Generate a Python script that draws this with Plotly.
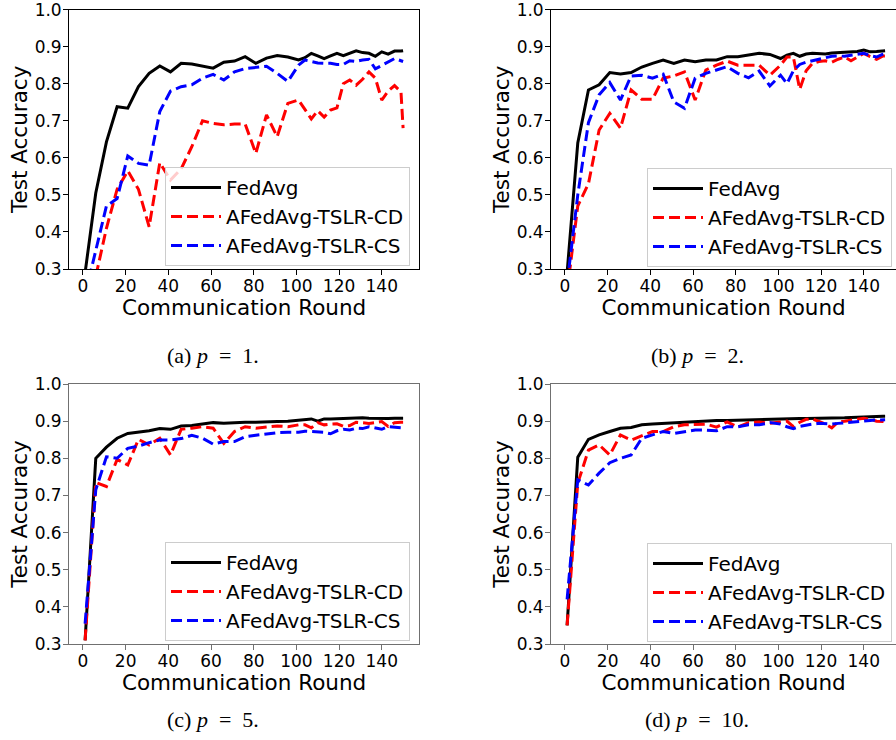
import plotly.graph_objects as go

# ---------------- data ----------------
ROUNDS = [1, 6, 11, 16, 21, 26, 31, 36, 41, 46, 51, 56, 61, 66, 71, 76, 81, 86, 91, 96, 101,
          104, 107, 110, 113, 116, 119, 122, 125, 128, 131, 134, 137, 140, 143, 146, 149, 150]

# p = 1
A_FEDAVG = [0.29, 0.505, 0.643, 0.738, 0.734, 0.792, 0.828, 0.848, 0.832, 0.855, 0.853, 0.848, 0.842,
            0.858, 0.861, 0.873, 0.855, 0.869, 0.876, 0.872, 0.864,
            0.870, 0.882, 0.875, 0.868, 0.875, 0.882, 0.876, 0.882, 0.889, 0.884, 0.882, 0.874,
            0.886, 0.880, 0.888, 0.888, 0.889]
A_CD = [0.20, 0.28, 0.41, 0.515, 0.565, 0.515, 0.414, 0.587, 0.540, 0.570, 0.630, 0.700, 0.693,
        0.689, 0.691, 0.691, 0.612, 0.716, 0.657, 0.747, 0.756,
        0.730, 0.705, 0.727, 0.710, 0.729, 0.735, 0.800, 0.810, 0.796, 0.812, 0.832, 0.815,
        0.756, 0.780, 0.795, 0.778, 0.680]
A_CS = [0.23, 0.35, 0.47, 0.49, 0.605, 0.585, 0.580, 0.725, 0.780, 0.792, 0.797, 0.815, 0.825,
        0.810, 0.832, 0.841, 0.844, 0.847, 0.828, 0.806, 0.850,
        0.864, 0.860, 0.856, 0.855, 0.855, 0.852, 0.852, 0.862, 0.860, 0.864, 0.866, 0.840,
        0.850, 0.858, 0.868, 0.862, 0.860]

# p = 2
B_FEDAVG = [0.29, 0.640, 0.783, 0.797, 0.830, 0.826, 0.830, 0.845, 0.855, 0.864, 0.855, 0.864, 0.859,
            0.864, 0.864, 0.873, 0.873, 0.877, 0.882, 0.879, 0.868,
            0.877, 0.882, 0.874, 0.880, 0.882, 0.882, 0.880, 0.883, 0.884, 0.886, 0.885, 0.887,
            0.891, 0.886, 0.887, 0.888, 0.889]
B_CD = [0.24, 0.47, 0.53, 0.675, 0.720, 0.680, 0.783, 0.758, 0.758, 0.815, 0.821, 0.832, 0.756,
        0.837, 0.850, 0.861, 0.850, 0.850, 0.850, 0.823, 0.850,
        0.872, 0.872, 0.785, 0.835, 0.855, 0.860, 0.862, 0.858, 0.866, 0.872, 0.862, 0.871,
        0.882, 0.873, 0.866, 0.875, 0.875]
B_CS = [0.26, 0.50, 0.695, 0.770, 0.803, 0.756, 0.821, 0.823, 0.815, 0.826, 0.751, 0.734, 0.815,
        0.828, 0.837, 0.846, 0.828, 0.816, 0.834, 0.794, 0.823,
        0.800, 0.835, 0.852, 0.858, 0.862, 0.868, 0.872, 0.874, 0.875, 0.874, 0.877, 0.879,
        0.882, 0.876, 0.872, 0.880, 0.882]

# p = 5
C_FEDAVG = [0.31, 0.800, 0.830, 0.854, 0.867, 0.870, 0.874, 0.880, 0.878, 0.887, 0.888, 0.892, 0.896,
            0.894, 0.896, 0.897, 0.897, 0.897, 0.899, 0.900, 0.902,
            0.905, 0.906, 0.900, 0.906, 0.906, 0.907, 0.908, 0.907, 0.909, 0.909, 0.908, 0.907,
            0.908, 0.907, 0.908, 0.908, 0.908]
C_CD = [0.31, 0.735, 0.724, 0.797, 0.782, 0.851, 0.836, 0.854, 0.809, 0.878, 0.881, 0.885, 0.881,
        0.840, 0.872, 0.885, 0.881, 0.885, 0.887, 0.885, 0.890,
        0.890, 0.882, 0.896, 0.890, 0.892, 0.893, 0.886, 0.888, 0.897, 0.896, 0.894, 0.896,
        0.899, 0.886, 0.896, 0.897, 0.897]
C_CS = [0.355, 0.715, 0.804, 0.800, 0.827, 0.833, 0.842, 0.849, 0.849, 0.853, 0.862, 0.854, 0.838,
        0.845, 0.845, 0.858, 0.862, 0.866, 0.869, 0.870, 0.870,
        0.873, 0.872, 0.872, 0.870, 0.866, 0.874, 0.878, 0.876, 0.881, 0.880, 0.885, 0.882,
        0.878, 0.885, 0.884, 0.883, 0.882]

# p = 10
D_FEDAVG = [0.35, 0.803, 0.851, 0.863, 0.872, 0.881, 0.883, 0.890, 0.892, 0.894, 0.896, 0.897, 0.898,
            0.900, 0.902, 0.902, 0.903, 0.904, 0.905, 0.905, 0.905,
            0.906, 0.907, 0.907, 0.907, 0.907, 0.907, 0.908, 0.908, 0.909, 0.909, 0.910, 0.911,
            0.911, 0.911, 0.912, 0.913, 0.913]
D_CD = [0.35, 0.733, 0.822, 0.836, 0.809, 0.863, 0.849, 0.860, 0.872, 0.872, 0.885, 0.890, 0.892,
        0.892, 0.884, 0.898, 0.884, 0.896, 0.898, 0.894, 0.898,
        0.900, 0.885, 0.897, 0.905, 0.906, 0.899, 0.892, 0.882, 0.898, 0.900, 0.903, 0.905,
        0.908, 0.905, 0.900, 0.899, 0.898]
D_CS = [0.42, 0.742, 0.728, 0.760, 0.788, 0.800, 0.809, 0.854, 0.863, 0.872, 0.867, 0.872, 0.876,
        0.876, 0.874, 0.885, 0.885, 0.890, 0.890, 0.896, 0.892,
        0.885, 0.880, 0.886, 0.890, 0.892, 0.894, 0.893, 0.892, 0.894, 0.896, 0.897, 0.899,
        0.900, 0.902, 0.903, 0.904, 0.904]

SERIES_NAMES = ["FedAvg", "AFedAvg-TSLR-CD", "AFedAvg-TSLR-CS"]
CAPTIONS = ["(a) <i>p</i>&nbsp; =&nbsp; 1.", "(b) <i>p</i>&nbsp; =&nbsp; 2.",
            "(c) <i>p</i>&nbsp; =&nbsp; 5.", "(d) <i>p</i>&nbsp; =&nbsp; 10."]
Y_TICKS = [0.3, 0.4, 0.5, 0.6, 0.7, 0.8, 0.9, 1.0]
X_TICKS = [0, 20, 40, 60, 80, 100, 120, 140]

PANELS = [
    (A_FEDAVG, A_CD, A_CS),
    (B_FEDAVG, B_CD, B_CS),
    (C_FEDAVG, C_CD, C_CS),
    (D_FEDAVG, D_CD, D_CS),
]

# ---------------- layout geometry ----------------
W, H = 896, 740
FONT = "DejaVu Sans"
left_dom = [69.2 / W, 419 / W]
right_dom = [551.2 / W, 1.0]
top_dom = [1 - 269 / H, 1 - 9.6 / H]
bot_dom = [1 - 644 / H, 1 - 384 / H]
x_ranges = [[-6.45, 157.45], [-6.45, 155.1], [-6.45, 157.45], [-6.45, 155.1]]
x_doms = [left_dom, right_dom, left_dom, right_dom]
y_doms = [top_dom, top_dom, bot_dom, bot_dom]
spine_colors = ["#000000", "#000000", "#707070", "#707070"]
legend_pos = [(165 / W, 1 - 167 / H), (647 / W, 1 - 168 / H),
              (165 / W, 1 - 542 / H), (647 / W, 1 - 543 / H)]
caption_pos = [(213 / W, 1 - 355 / H), (697 / W, 1 - 355 / H),
               (213 / W, 1 - 719 / H), (697 / W, 1 - 719 / H)]

colors = ["#000000", "#ff0000", "#0000ff"]
dashes = ["solid", "11px,5px", "11px,5px"]

fig = go.Figure()
layout = dict(width=W, height=H, margin=dict(l=0, r=0, t=0, b=0, autoexpand=False),
              paper_bgcolor="white", plot_bgcolor="white", showlegend=True)

annotations = []
for i, series in enumerate(PANELS):
    k = "" if i == 0 else str(i + 1)
    leg = "legend" if i == 0 else f"legend{i + 1}"
    for j, vals in enumerate(series):
        fig.add_trace(go.Scatter(
            x=ROUNDS, y=vals, mode="lines", name=SERIES_NAMES[j],
            line=dict(color=colors[j], width=3, dash=dashes[j]),
            xaxis="x" + k, yaxis="y" + k, legend=leg, hoverinfo="skip"))
    layout["xaxis" + k] = dict(
        domain=x_doms[i], range=x_ranges[i], anchor="y" + k, automargin=False,
        tickvals=X_TICKS, ticks="outside", ticklen=5, tickwidth=1.2, ticklabelstandoff=-4,
        ticklabeloverflow="allow",
        tickcolor=spine_colors[i], showline=True, linecolor=spine_colors[i], linewidth=1.2,
        mirror=True, showgrid=False, zeroline=False,
        tickfont=dict(family=FONT, size=17, color="black"),
        title=dict(text="Communication Round", font=dict(family=FONT, size=21.5, color="black"),
                   standoff=2))
    layout["yaxis" + k] = dict(
        domain=y_doms[i], range=[0.3, 1.0], anchor="x" + k, automargin=False,
        tickvals=Y_TICKS, tickformat=".1f", ticks="outside", ticklen=5, tickwidth=1.2,
        ticklabelstandoff=-2, ticklabeloverflow="allow",
        tickcolor=spine_colors[i], showline=True, linecolor=spine_colors[i], linewidth=1.2,
        mirror=(i % 2 == 0), showgrid=False, zeroline=False,
        tickfont=dict(family=FONT, size=17, color="black"),
        title=dict(text="Test Accuracy", font=dict(family=FONT, size=21.5, color="black"),
                   standoff=1))
    lx, ly = legend_pos[i]
    layout[leg] = dict(x=lx, y=ly, xanchor="left", yanchor="top",
                       bgcolor="rgba(255,255,255,0.8)", bordercolor="#cccccc", borderwidth=1,
                       font=dict(family=FONT, size=20, color="black"), itemwidth=50,
                       tracegroupgap=0)
    cx, cy = caption_pos[i]
    annotations.append(dict(text=CAPTIONS[i], x=cx, y=cy, xref="paper", yref="paper",
                            showarrow=False, xanchor="center", yanchor="middle",
                            font=dict(family="Liberation Serif", size=22, color="black")))

layout["annotations"] = annotations
fig.update_layout(**layout)
fig.write_html("out.html", config={"displayModeBar": False},
               post_script="document.body.style.margin='0';")
